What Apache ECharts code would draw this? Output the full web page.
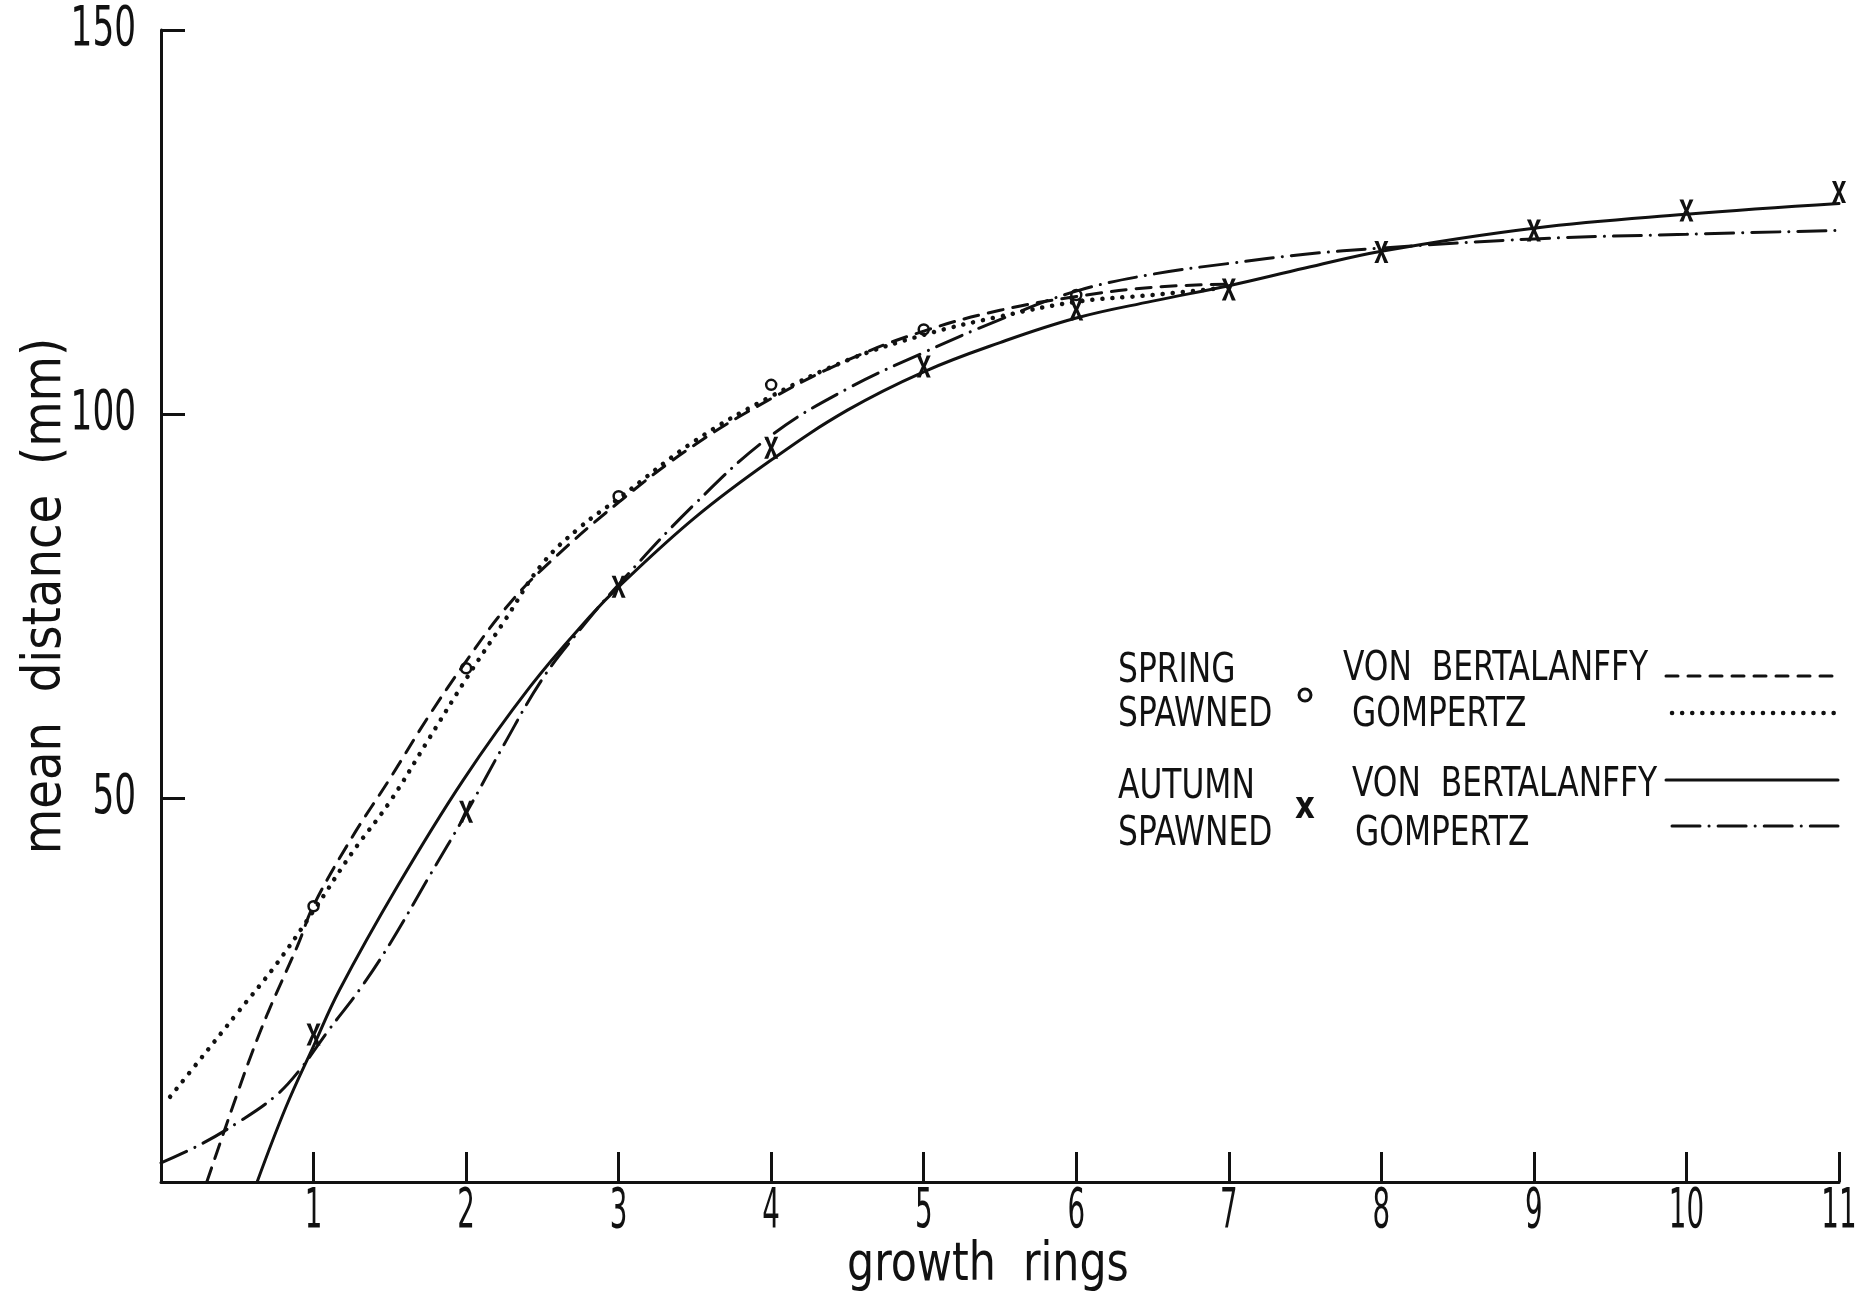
<!DOCTYPE html>
<html>
<head>
<meta charset="utf-8">
<script src="https://cdn.jsdelivr.net/npm/echarts@6/dist/echarts.min.js"></script>
<style>
  html, body { margin: 0; padding: 0; background: #fff; }
  #chart { width: 1859px; height: 1299px; }
</style>
</head>
<body>
<div id="chart"></div>
<script>
// ticks
var xTicks = [1, 2, 3, 4, 5, 6, 7, 8, 9, 10, 11]
var yTicks = [50, 100, 150]

// observed means
var springRings = [1, 2, 3, 4, 5, 6]
var springMeans = [35.9, 66.9, 89.3, 103.8, 111, 115.5]
var autumnRings = [1, 2, 3, 4, 5, 6, 7, 8, 9, 10, 11]
var autumnMeans = [19.2, 48.2, 77.5, 95.6, 106.2, 113.6, 116.2, 121.1, 123.9, 126.5, 128.9]

// fitted curves
var springBertX = [0.3, 0.4, 0.5, 0.6, 0.7, 0.8, 0.9, 1, 1.25, 1.5, 1.75, 2, 2.25, 2.5, 3, 3.5, 4, 4.5, 5, 5.5, 6, 6.5, 7]
var springBertY = [0, 5.8, 11.5, 17, 22, 26.5, 31, 36, 44.8, 52.5, 60.5, 67.8, 74.5, 79.8, 88.5, 96, 102, 107, 110.8, 113.5, 115.3, 116.5, 116.9]

var springGompX = [0.06, 0.25, 0.5, 0.75, 1, 1.25, 1.5, 1.75, 2, 2.25, 2.5, 2.75, 3, 3.5, 4, 4.5, 5, 5.5, 6, 6.5, 6.95]
var springGompY = [11.1, 15.8, 22, 28.2, 35.3, 42.8, 49.5, 57.5, 65.5, 73, 80.5, 85.3, 89, 96.5, 102.3, 107, 110.3, 112.7, 114.6, 115.5, 116.4]

var autumnBertX = [0.63, 0.82, 1, 1.17, 1.55, 1.98, 2.42, 2.81, 3, 3.5, 4, 4.5, 5, 5.5, 6, 6.5, 7, 7.5, 8, 9, 10, 11]
var autumnBertY = [0, 9.8, 17.7, 25, 38.5, 52.3, 64.5, 73.6, 77.5, 86.5, 94, 100.5, 105.5, 109.3, 112.5, 114.7, 116.7, 119, 121.2, 124.2, 126, 127.4]

var autumnGompX = [0, 0.25, 0.5, 0.75, 0.91, 1.1, 1.3, 1.5, 1.75, 2, 2.25, 2.5, 2.75, 3, 3.5, 4, 4.5, 5, 5.5, 6, 6.5, 7, 7.5, 8, 9, 10, 11]
var autumnGompY = [2.5, 4.8, 7.7, 11.2, 14.6, 19.8, 25, 31, 39.5, 48, 57, 65.5, 72, 77.8, 88.3, 97.2, 103.3, 108, 112.3, 116, 118.2, 119.6, 120.8, 121.6, 122.8, 123.4, 123.9]

function pairs(xs, ys){
	return xs.map(function(x, i){ return [x, ys[i]] })
}

var ink = '#111'
var cond = "'DejaVu Sans Condensed', 'DejaVu Sans', sans-serif"
var xMark = 'path://M0,0 L4,0 L7,8 L10,0 L14,0 L9,11 L14,22 L10,22 L7,14 L4,22 L0,22 L5,11 Z'

var dashed = [15, 10]
var dotted = [0.1, 10]
var dashDot = [28, 9, 0.1, 9]

function curve(name, data, dash, w){
	return {
		name: name,
		type: 'line',
		data: data,
		smooth: 0.4,
		showSymbol: false,
		silent: true,
		lineStyle: { color: ink, width: w, type: dash, cap: 'round' }
	}
}

function txt(x, y, t, size, sx, align, rot, weight){
	return {
		type: 'text', x: x, y: y, scaleX: sx, rotation: rot || 0,
		style: { text: t, fill: ink, font: (weight || 'normal') + ' ' + size + 'px ' + cond, textAlign: align, textVerticalAlign: 'middle', verticalAlign: 'middle' }
	}
}
function legendLine(x1, x2, y, dash, w){
	return { type: 'line', shape: { x1: x1, y1: y, x2: x2, y2: y }, style: { stroke: ink, lineWidth: w, lineDash: dash, lineCap: 'round' } }
}

var dom = document.getElementById('chart')
var myChart = echarts.init(dom)
var legendParts = [
	txt(988, 1266, 'growth  rings', 54, 0.88, 'center'),
	txt(46, 596, 'mean  distance  (mm)', 54, 0.96, 'center', Math.PI / 2),

	txt(1118, 672, 'SPRING', 40, 0.87, 'left'),
	txt(1118, 716, 'SPAWNED', 40, 0.87, 'left'),
	txt(1118, 788, 'AUTUMN', 40, 0.87, 'left'),
	txt(1118, 835, 'SPAWNED', 40, 0.87, 'left'),
	{ type: 'circle', shape: { cx: 1305, cy: 695, r: 6 }, style: { fill: '#fff', stroke: ink, lineWidth: 3 } },
	txt(1305, 808, 'x', 38, 0.9, 'center', 0, 'bold'),
	txt(1343, 670, 'VON  BERTALANFFY', 40, 0.87, 'left'),
	txt(1352, 716, 'GOMPERTZ', 40, 0.87, 'left'),
	txt(1352, 786, 'VON  BERTALANFFY', 40, 0.87, 'left'),
	txt(1355, 835, 'GOMPERTZ', 40, 0.87, 'left'),
	legendLine(1666, 1838, 676, [12, 10], 3),
	legendLine(1672, 1838, 713, dotted, 4.5),
	legendLine(1666, 1838, 780, null, 3),
	legendLine(1672, 1838, 826, dashDot, 3)
]

var option = {
	animation: false,
	backgroundColor: '#fff',
	grid: { left: 161, right: 20, top: 30, bottom: 117 },
	xAxis: {
		type: 'value',
		min: 0, max: 11, interval: 1,
		axisLine: { lineStyle: { color: ink, width: 3 } },
		axisTick: { inside: true, length: 30, lineStyle: { color: ink, width: 3 } },
		splitLine: { show: false },
		axisLabel: { show: false }
	},
	yAxis: {
		type: 'value',
		min: 0, max: 150, interval: 50,
		axisLine: { lineStyle: { color: ink, width: 3 } },
		axisTick: { inside: true, length: 24, lineStyle: { color: ink, width: 3 } },
		splitLine: { show: false },
		axisLabel: { show: false }
	},
	series: [
		curve('spring von Bertalanffy', pairs(springBertX, springBertY), dashed, 3),
		curve('spring Gompertz', pairs(springGompX, springGompY), dotted, 4.5),
		curve('autumn von Bertalanffy', pairs(autumnBertX, autumnBertY), 'solid', 3),
		curve('autumn Gompertz', pairs(autumnGompX, autumnGompY), dashDot, 3),
		{
			name: 'spring spawned',
			type: 'scatter',
			data: pairs(springRings, springMeans),
			symbol: 'circle',
			symbolSize: 10,
			itemStyle: { color: '#fff', borderColor: ink, borderWidth: 2.5, opacity: 1 }
		},
		{
			name: 'autumn spawned',
			type: 'scatter',
			data: pairs(autumnRings, autumnMeans),
			symbol: xMark,
			symbolSize: [14, 22],
			itemStyle: { color: ink, opacity: 1 }
		}
	],
	graphic: legendParts
}
myChart.setOption(option)

// narrow tick numbers, placed through the axis scales
var tickLabels = []
xTicks.forEach(function(v){
	var p = myChart.convertToPixel({ gridIndex: 0 }, [v, 0])
	tickLabels.push(txt(p[0], p[1] + 30, String(v), 56, 0.55, 'center'))
})
yTicks.forEach(function(v){
	var p = myChart.convertToPixel({ gridIndex: 0 }, [0, v])
	tickLabels.push(txt(p[0] - 25, p[1], String(v), 56, 0.68, 'right'))
})
myChart.setOption({ graphic: legendParts.concat(tickLabels) })
</script>
</body>
</html>
